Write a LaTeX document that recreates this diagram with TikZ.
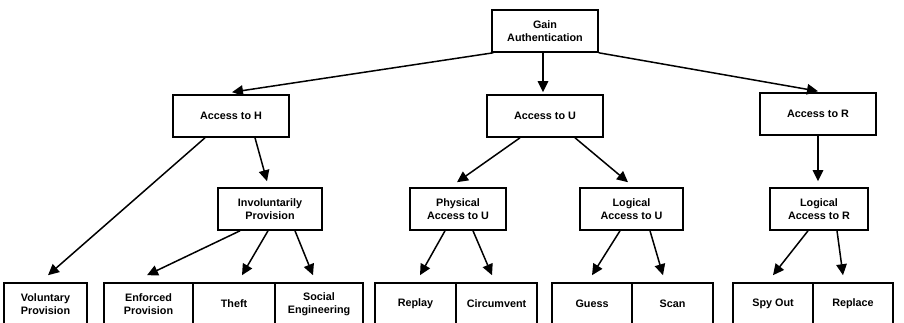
\documentclass[tikz,border=0pt]{standalone}
\usepackage{fontspec}
\setmainfont{Liberation Sans}
\usetikzlibrary{arrows.meta}
\begin{document}
\begin{tikzpicture}[x=1pt,y=-1pt,
  box/.style={draw,line width=1.6pt,inner sep=0pt,align=center,
    font=\fontsize{10.8}{12.8}\selectfont\bfseries,minimum height=42pt},
  link/.style={line width=1.5pt,-{Triangle[length=11pt,width=10.5pt]}}]
\useasboundingbox (0,0) rectangle (904,322);
\clip (0,0) rectangle (904,322);
% root
\node[box,minimum width=106pt] (gain) at (545,31) {Gain\\Authentication};
% second level
\node[box,minimum width=116pt] (accH) at (231,116) {Access to H};
\node[box,minimum width=116pt] (accU) at (545,116) {Access to U};
\node[box,minimum width=116pt] (accR) at (818,114) {Access to R};
% third level
\node[box,minimum width=104pt] (invol) at (270,209) {Involuntarily\\Provision};
\node[box,minimum width=96pt]  (phys)  at (458,209) {Physical\\Access to U};
\node[box,minimum width=103pt] (logU)  at (631.5,209) {Logical\\Access to U};
\node[box,minimum width=98pt]  (logR)  at (819,209) {Logical\\Access to R};
% leaves
\node[box,minimum width=83pt] (vol)     at (45.5,304)  {Voluntary\\Provision};
\node[box,minimum width=89pt] (enf)     at (148.5,304) {Enforced\\Provision};
\node[box,minimum width=82pt] (theft)   at (234,304)   {Theft};
\node[box,minimum width=88pt] (social)  at (319,304)   {Social\\Engineering};
\node[box,minimum width=81pt] (replay)  at (415.5,304) {Replay};
\node[box,minimum width=81pt] (circ)    at (496.5,304) {Circumvent};
\node[box,minimum width=80pt] (guess)   at (592,304)   {Guess};
\node[box,minimum width=81pt] (scan)    at (672.5,304) {Scan};
\node[box,minimum width=80pt] (spy)     at (773,304)   {Spy Out};
\node[box,minimum width=80pt] (replace) at (853,304)   {Replace};
% connectors
\draw[link] ([xshift=2pt]gain.south west) -- ([xshift=1pt,yshift=2pt]accH.north);
\draw[link] ([xshift=-2pt]gain.south) -- ([xshift=-2pt,yshift=2pt]accU.north);
\draw[link] (gain.south east) -- ([yshift=1pt]accR.north);
\draw[link] ([xshift=-26pt]accH.south) -- ([xshift=2.5pt,yshift=7pt]vol.north);
\draw[link] ([xshift=24pt]accH.south) -- ([xshift=-3pt,yshift=6pt]invol.north);
\draw[link] ([xshift=-30pt]invol.south) -- ([xshift=-1.5pt,yshift=7pt]enf.north);
\draw[link] ([xshift=-2pt]invol.south) -- ([xshift=8pt,yshift=7pt]theft.north);
\draw[link] ([xshift=25pt]invol.south) -- ([xshift=-6pt,yshift=7pt]social.north);
\draw[link] ([xshift=-25pt]accU.south) -- ([xshift=-1pt,yshift=5pt]phys.north);
\draw[link] ([xshift=30pt]accU.south) -- ([xshift=-3.5pt,yshift=5pt]logU.north);
\draw[link] ([xshift=-13pt]phys.south) -- ([xshift=4.5pt,yshift=7pt]replay.north);
\draw[link] ([xshift=15pt]phys.south) -- ([xshift=-4.5pt,yshift=7pt]circ.north);
\draw[link] ([xshift=-11.5pt]logU.south) -- ([yshift=7pt]guess.north);
\draw[link] ([xshift=18.5pt]logU.south) -- ([xshift=-9.5pt,yshift=7pt]scan.north);
\draw[link] (accR.south) -- ([xshift=-1pt,yshift=6pt]logR.north);
\draw[link] ([xshift=-11pt]logR.south) -- ([yshift=7pt]spy.north);
\draw[link] ([xshift=18pt]logR.south) -- ([xshift=-10pt,yshift=7pt]replace.north);
\end{tikzpicture}
\end{document}
